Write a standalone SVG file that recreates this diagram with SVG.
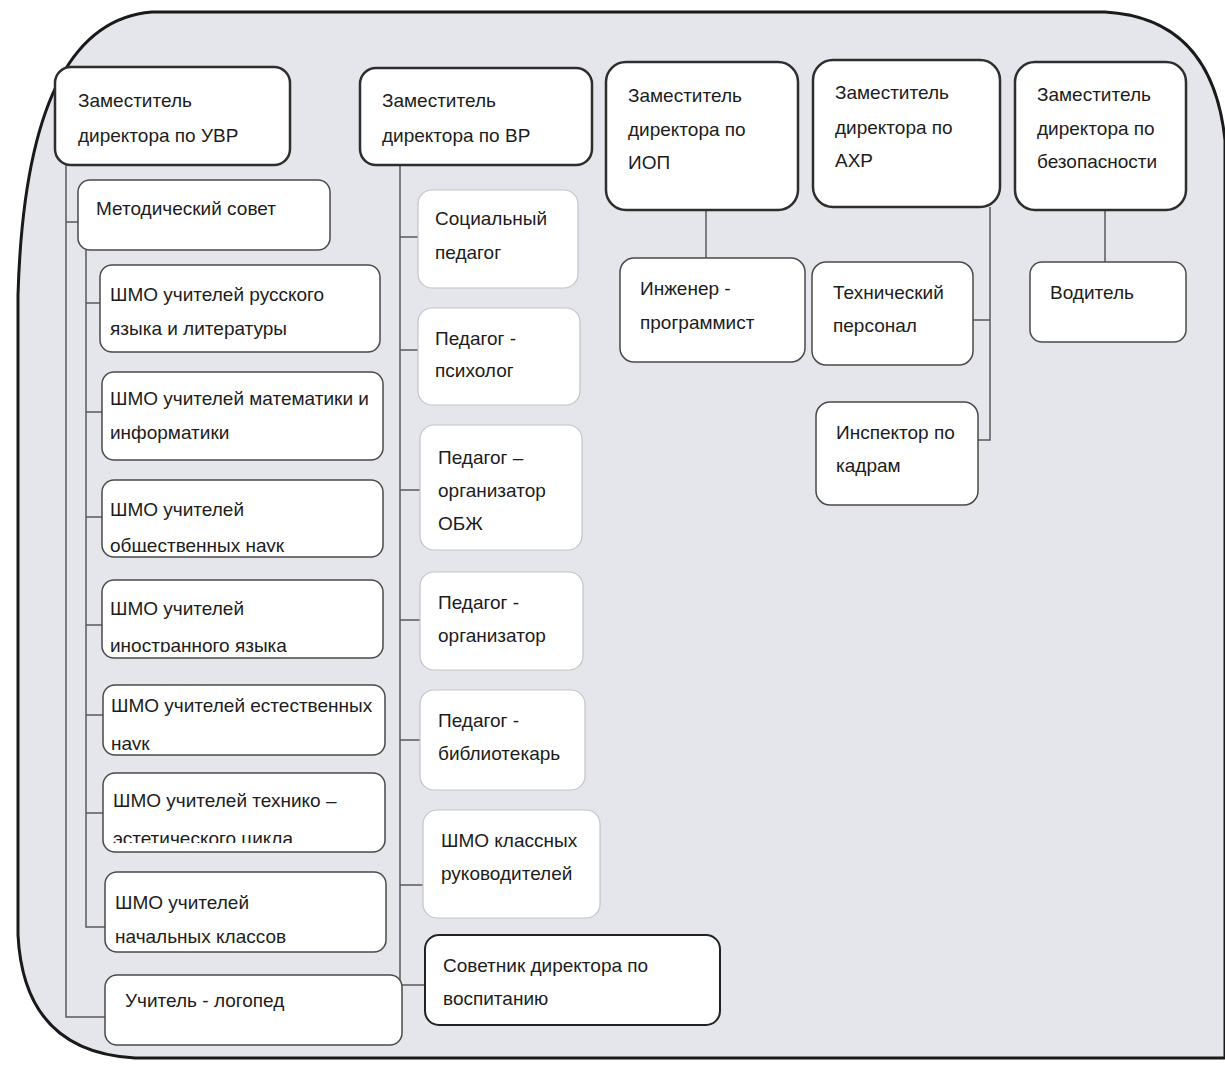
<svg xmlns="http://www.w3.org/2000/svg" width="1225" height="1065" viewBox="0 0 1225 1065">
<style>
text{font-family:"Liberation Sans",Arial,sans-serif;font-size:19px;fill:#1c1c1c}
.top{fill:#fff;stroke:#2e2e2e;stroke-width:2.5}
.child{fill:#fff;stroke:#4a4a4a;stroke-width:1.5}
.soft{fill:#fff;stroke:#c4c4c8;stroke-width:1.2}
.dark{fill:#fff;stroke:#222;stroke-width:2}
.conn{fill:none;stroke:#5a5a5a;stroke-width:1.5}
</style>
<defs>
<clipPath id="cObs"><rect x="100" y="478" width="290" height="74"/></clipPath>
<clipPath id="cIno"><rect x="100" y="578" width="290" height="74"/></clipPath>
<clipPath id="cEst"><rect x="100" y="683" width="290" height="67"/></clipPath>
<clipPath id="cTeh"><rect x="100" y="771" width="290" height="72"/></clipPath>
</defs>
<rect x="0" y="0" width="1225" height="1065" fill="#fff"/>
<path d="M1225,1058 L135,1058 Q24,1052 18,935 L18,295 Q26,22 152,12 L1105,12 Q1212,18 1225,140 Z" fill="#e4e6ec" stroke="#1a1a1a" stroke-width="3"/>

<g id="connectors">
<path class="conn" d="M66,165 L66,1017 L105,1017"/>
<path class="conn" d="M66,222 L78,222"/>
<path class="conn" d="M86,250 L86,927 L105,927"/>
<path class="conn" d="M86,303 L100,303 M86,412 L102,412 M86,517 L102,517 M86,625 L102,625 M86,715 L103,715 M86,813 L103,813"/>
<path class="conn" d="M400,165 L400,985 L425,985"/>
<path class="conn" d="M400,237 L418,237 M400,350 L418,350 M400,490 L420,490 M400,620 L420,620 M400,740 L420,740 M400,885 L423,885"/>
<path class="conn" d="M706,210 L706,258"/>
<path class="conn" d="M990,207 L990,440 L978,440 M973,320 L990,320"/>
<path class="conn" d="M1105,210 L1105,262"/>
</g>

<g id="n-uvr"><rect class="top" x="55" y="67" width="235" height="98" rx="16"/><text x="78" y="107">Заместитель</text><text x="78" y="142">директора по УВР</text></g>
<g id="n-vr"><rect class="top" x="360" y="68" width="232" height="97" rx="16"/><text x="382" y="107">Заместитель</text><text x="382" y="142">директора по ВР</text></g>
<g id="n-iop"><rect class="top" x="606" y="62" width="192" height="148" rx="20"/><text x="628" y="102">Заместитель</text><text x="628" y="136">директора по</text><text x="628" y="169">ИОП</text></g>
<g id="n-ahr"><rect class="top" x="813" y="60" width="187" height="147" rx="20"/><text x="835" y="99">Заместитель</text><text x="835" y="134">директора по</text><text x="835" y="167">АХР</text></g>
<g id="n-bez"><rect class="top" x="1015" y="62" width="171" height="148" rx="20"/><text x="1037" y="101">Заместитель</text><text x="1037" y="135">директора по</text><text x="1037" y="168">безопасности</text></g>

<g id="n-metod"><rect class="child" x="78" y="180" width="252" height="70" rx="12"/><text x="96" y="215">Методический совет</text></g>
<g id="n-shmo-rus"><rect class="child" x="100" y="265" width="280" height="87" rx="12"/><text x="110" y="301">ШМО учителей русского</text><text x="110" y="335">языка и литературы</text></g>
<g id="n-shmo-mat"><rect class="child" x="102" y="372" width="281" height="88" rx="12"/><text x="110" y="405">ШМО учителей математики и</text><text x="110" y="439">информатики</text></g>
<g id="n-shmo-obs"><rect class="child" x="102" y="480" width="281" height="77" rx="12"/><text x="110" y="516">ШМО учителей</text><text x="110" y="552" clip-path="url(#cObs)">общественных наук</text></g>
<g id="n-shmo-ino"><rect class="child" x="102" y="580" width="281" height="78" rx="12"/><text x="110" y="615">ШМО учителей</text><text x="110" y="652" clip-path="url(#cIno)">иностранного языка</text></g>
<g id="n-shmo-est"><rect class="child" x="103" y="685" width="282" height="70" rx="12"/><text x="111" y="712">ШМО учителей естественных</text><text x="111" y="750" clip-path="url(#cEst)">наук</text></g>
<g id="n-shmo-teh"><rect class="child" x="103" y="773" width="282" height="79" rx="12"/><text x="113" y="807">ШМО учителей технико –</text><text x="113" y="845" clip-path="url(#cTeh)">эстетического цикла</text></g>
<g id="n-shmo-nach"><rect class="child" x="105" y="872" width="281" height="80" rx="12"/><text x="115" y="909">ШМО учителей</text><text x="115" y="943">начальных классов</text></g>
<g id="n-logoped"><rect class="child" x="105" y="975" width="297" height="70" rx="12"/><text x="125" y="1007">Учитель - логопед</text></g>

<g id="n-soc"><rect class="soft" x="418" y="190" width="160" height="98" rx="14"/><text x="435" y="225">Социальный</text><text x="435" y="259">педагог</text></g>
<g id="n-psih"><rect class="soft" x="418" y="308" width="162" height="97" rx="14"/><text x="435" y="345">Педагог -</text><text x="435" y="377">психолог</text></g>
<g id="n-obzh"><rect class="soft" x="420" y="425" width="162" height="125" rx="14"/><text x="438" y="464">Педагог –</text><text x="438" y="497">организатор</text><text x="438" y="530">ОБЖ</text></g>
<g id="n-org"><rect class="soft" x="420" y="572" width="163" height="98" rx="14"/><text x="438" y="609">Педагог -</text><text x="438" y="642">организатор</text></g>
<g id="n-bibl"><rect class="soft" x="420" y="690" width="165" height="100" rx="14"/><text x="438" y="727">Педагог -</text><text x="438" y="760">библиотекарь</text></g>
<g id="n-kl"><rect class="soft" x="423" y="810" width="177" height="108" rx="14"/><text x="441" y="847">ШМО классных</text><text x="441" y="880">руководителей</text></g>
<g id="n-sovetnik"><rect class="dark" x="425" y="935" width="295" height="90" rx="14"/><text x="443" y="972">Советник  директора по</text><text x="443" y="1005">воспитанию</text></g>

<g id="n-inzh"><rect class="child" x="620" y="258" width="185" height="104" rx="14"/><text x="640" y="295">Инженер -</text><text x="640" y="329">программист</text></g>
<g id="n-teh"><rect class="child" x="812" y="262" width="161" height="103" rx="14"/><text x="833" y="299">Технический</text><text x="833" y="332">персонал</text></g>
<g id="n-insp"><rect class="child" x="816" y="402" width="162" height="103" rx="14"/><text x="836" y="439">Инспектор по</text><text x="836" y="472">кадрам</text></g>
<g id="n-vod"><rect class="child" x="1030" y="262" width="156" height="80" rx="12"/><text x="1050" y="299">Водитель</text></g>
</svg>
